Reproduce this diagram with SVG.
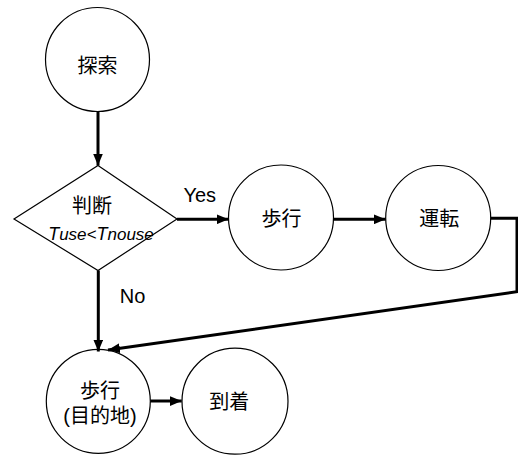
<svg xmlns="http://www.w3.org/2000/svg" width="518" height="459" viewBox="0 0 518 459">
<style>
.node{fill:#fff;stroke:#000;stroke-width:1.2}
.lbl{font-family:"Liberation Sans","Noto Sans CJK JP",sans-serif;font-size:20px;fill:#000;text-anchor:middle}
.edge{fill:none;stroke:#000;stroke-width:3}
.it{font-family:"Liberation Sans",sans-serif;font-style:italic;fill:#000}
</style>
<defs>
<marker id="arr" markerUnits="userSpaceOnUse" markerWidth="12" markerHeight="10" refX="12" refY="5" orient="auto">
<path d="M0,0 L12,5 L0,10 z" fill="#000"/>
</marker>
</defs>
<rect width="518" height="459" fill="#fff"/>
<g id="n-explore">
<circle class="node" cx="97.5" cy="59.5" r="52"/>
<text class="lbl" x="97.5" y="72.5">探索</text>
</g>
<g id="n-decide">
<polygon class="node" points="98,165.5 177,219 98,270.5 14,219"/>
<text class="lbl" x="92" y="212.5">判断</text>
<text class="it" x="101" y="239.5" text-anchor="middle"><tspan font-size="18">T</tspan><tspan font-size="17">use&lt;</tspan><tspan font-size="18">T</tspan><tspan font-size="17">nouse</tspan></text>
</g>
<g id="n-walk">
<circle class="node" cx="281" cy="217.5" r="52.5"/>
<text class="lbl" x="281.5" y="225.5">歩行</text>
</g>
<g id="n-drive">
<circle class="node" cx="438.2" cy="218" r="52.5"/>
<text class="lbl" x="439.3" y="225.5">運転</text>
</g>
<g id="n-walk2">
<circle class="node" cx="98.3" cy="401.3" r="52"/>
<text class="lbl" x="100" y="397.5">歩行</text>
<text class="lbl" x="100" y="422.5">(目的地)</text>
</g>
<g id="n-arrive">
<circle class="node" cx="235" cy="401.2" r="53"/>
<text class="lbl" x="229.3" y="409.3">到着</text>
</g>
<g id="edges">
<line class="edge" x1="98" y1="111.5" x2="98" y2="165.5" marker-end="url(#arr)"/>
<line class="edge" x1="177" y1="219.3" x2="228.5" y2="219.3" marker-end="url(#arr)"/>
<line class="edge" x1="333.5" y1="219.3" x2="385.7" y2="219.3" marker-end="url(#arr)"/>
<polyline class="edge" points="490.7,218.3 517,218.3 517,291.7 108,350" marker-end="url(#arr)"/>
<line class="edge" x1="98.3" y1="270.5" x2="98.3" y2="351.5" marker-end="url(#arr)"/>
<line class="edge" x1="150.3" y1="401" x2="181.7" y2="401" marker-end="url(#arr)"/>
<text class="lbl" x="199.7" y="201.7">Yes</text>
<text class="lbl" x="132.5" y="302.7">No</text>
</g>
</svg>
